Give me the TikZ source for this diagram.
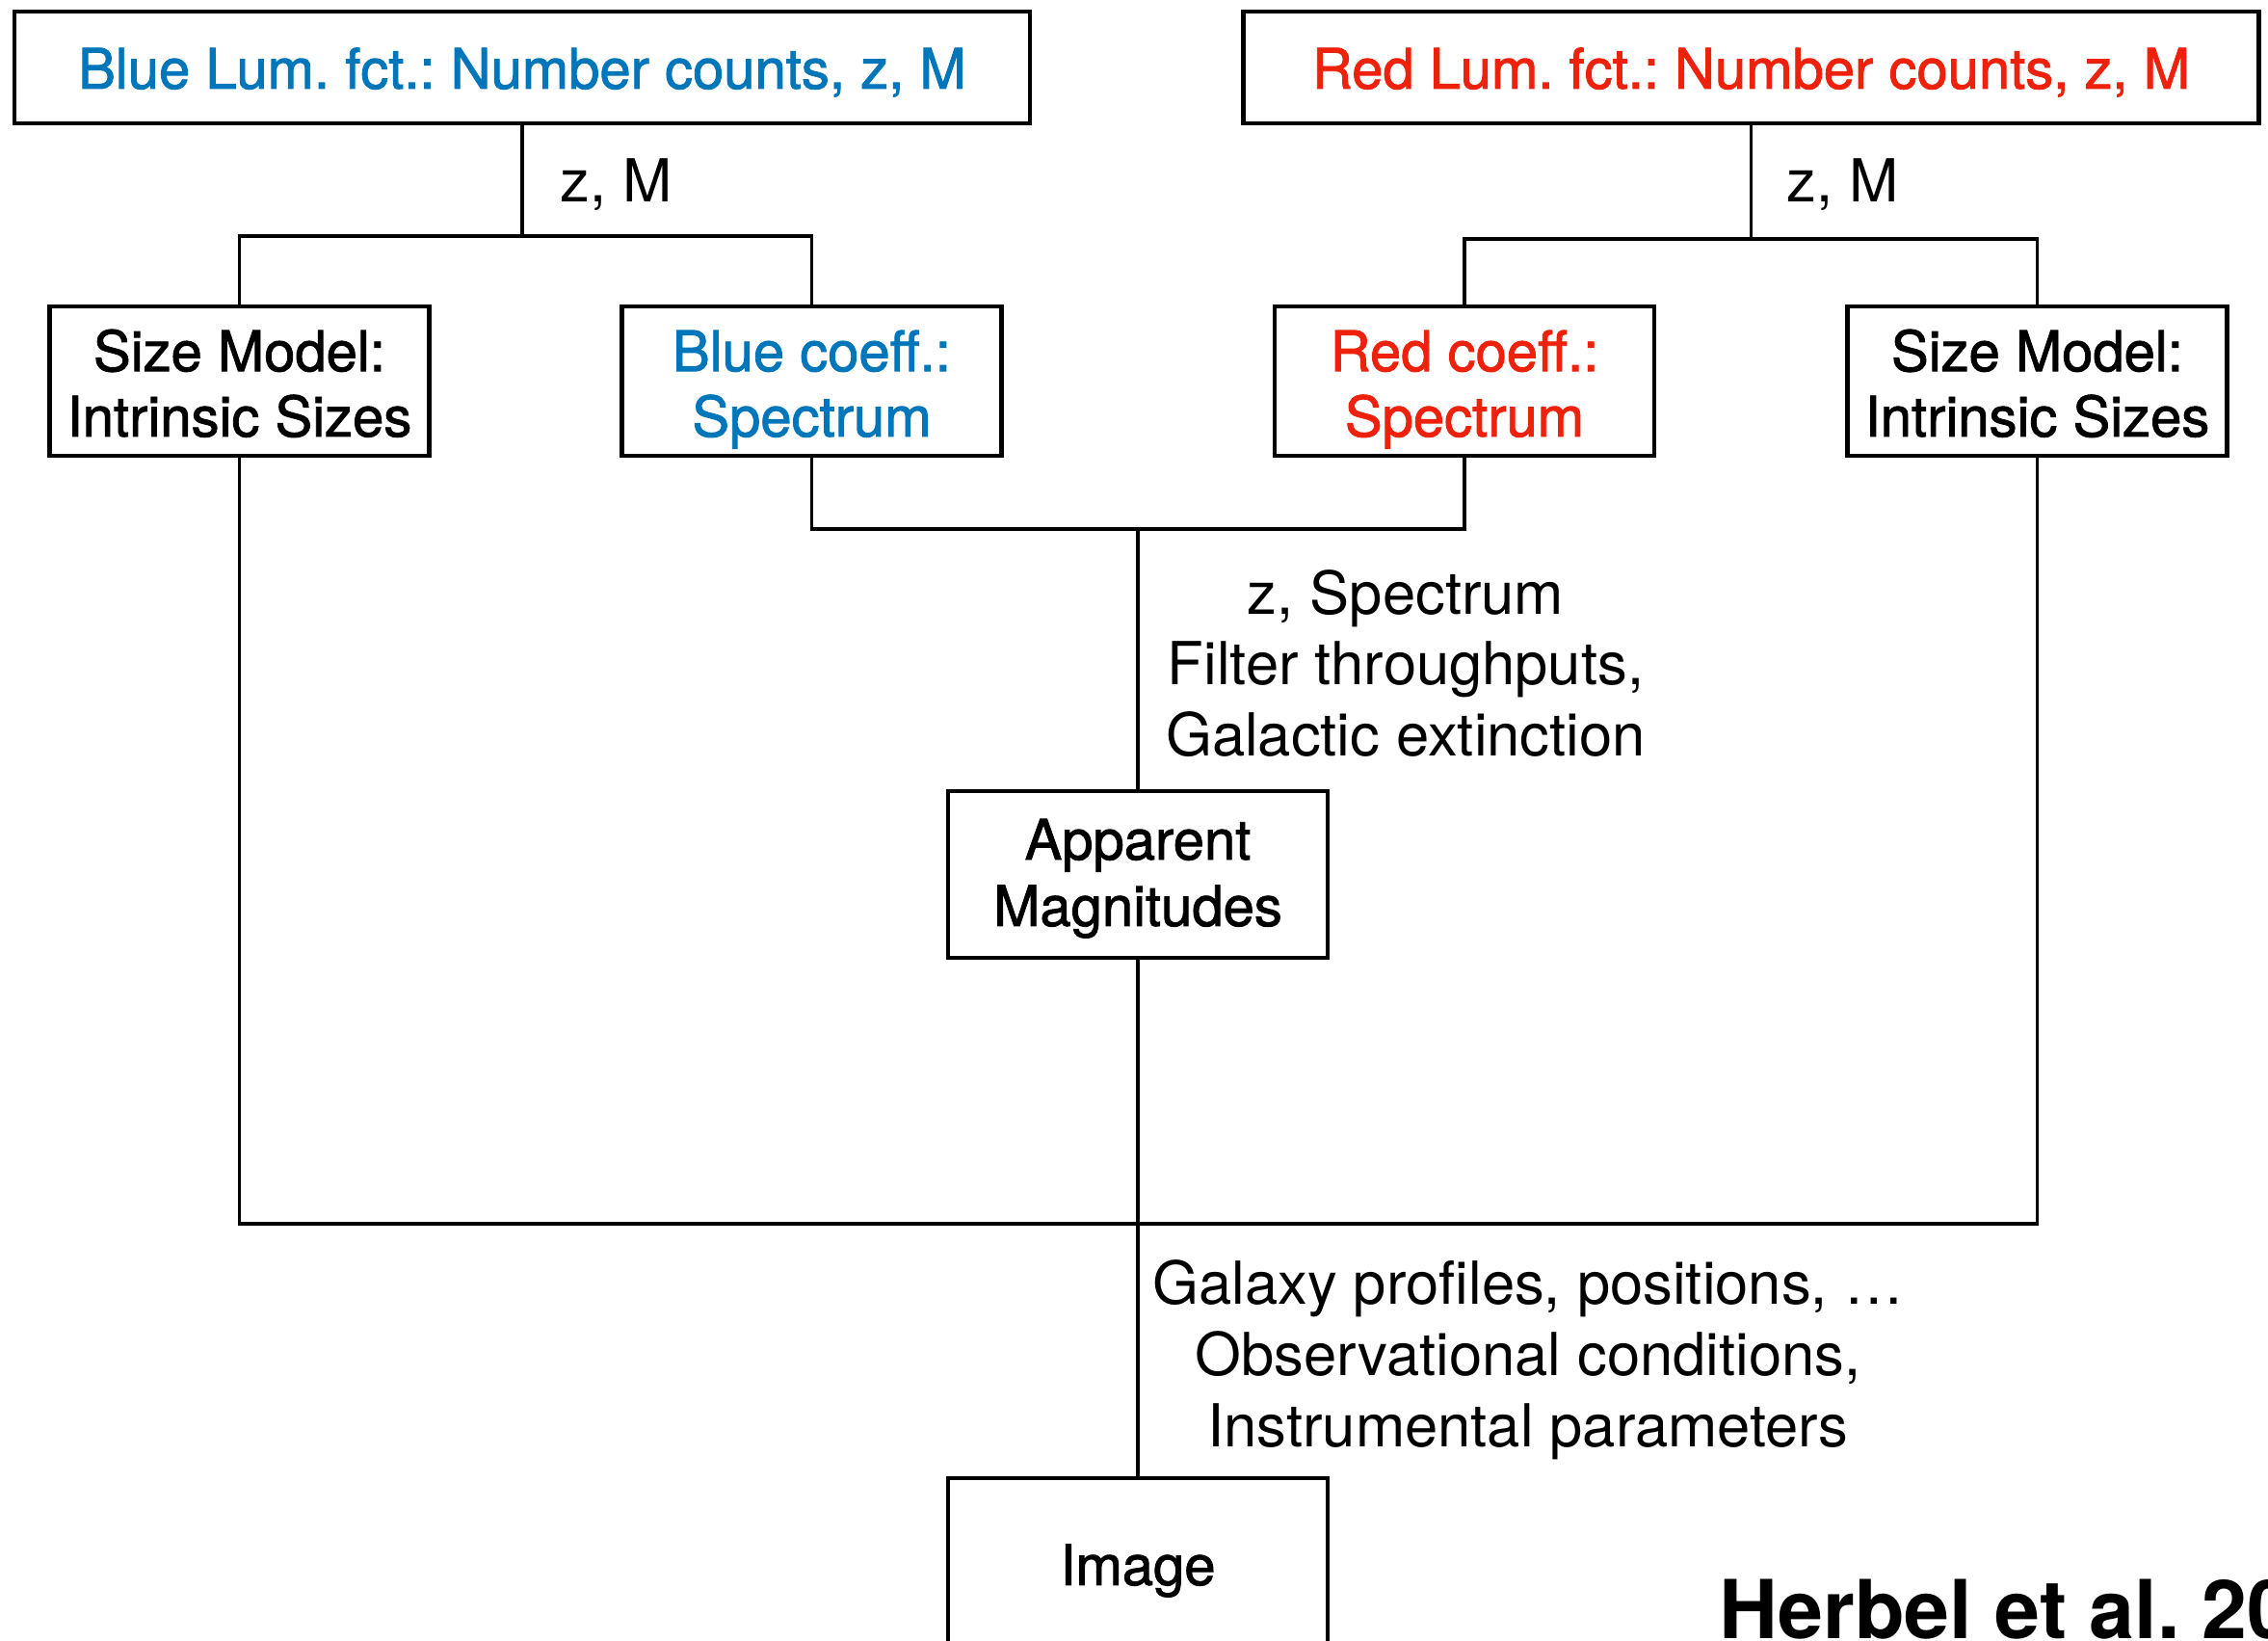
\documentclass[tikz,border=0pt]{standalone}
\usepackage{fontspec}
\setmainfont{TeX Gyre Heros}
\newfontfamily\medfont[FakeBold=1.5]{TeX Gyre Heros}
\usetikzlibrary{positioning}
\definecolor{lumblue}{HTML}{0076BA}
\definecolor{lumred}{HTML}{EE220C}
\frenchspacing

\begin{document}
\begin{tikzpicture}[
  box/.style={draw, line width=1.2pt, minimum width=3.94cm, minimum height=1.55cm,
              align=center, inner sep=0pt, font=\fontsize{16.5}{19.3}\medfont,
              text height=32.7pt, text depth=0pt},
  lumbox/.style={box, minimum width=10.54cm, minimum height=1.16cm,
                 text height=12.5pt, text depth=0pt},
  lbl/.style={align=center, inner sep=0pt, font=\fontsize{17.5}{21}\selectfont},
  wire/.style={line width=1.1pt}]
  \clip (0,0) rectangle (23.54,-17.03);
  \useasboundingbox (0,0) rectangle (23.54,-17.03);

  % Luminosity functions
  \node[lumbox, text=lumblue] (bluelum) at (5.42,-0.70) {Blue Lum. fct.: Number counts, z, M};
  \node[lumbox, text=lumred] (redlum) at (18.175,-0.70) {Red Lum. fct.: Number counts, z, M};

  % Second row
  \node[box] (bsize) at (2.485,-3.955) {Size Model:\\Intrinsic Sizes};
  \node[box, text=lumblue] (bcoeff) at (8.425,-3.955) {Blue coeff.:\\Spectrum};
  \node[box, text=lumred] (rcoeff) at (15.20,-3.955) {Red coeff.:\\Spectrum};
  \node[box] (rsize) at (21.145,-3.955) {Size Model:\\Intrinsic Sizes};

  % Magnitudes and image
  \node[box, minimum height=1.73cm, font=\fontsize{16.5}{19.6}\medfont,
        text height=30.4pt] (appmag) at (11.81,-9.075) {Apparent\\Magnitudes};
  \node[box, minimum height=1.73cm, text height=13.9pt] (image) at (11.81,-16.205) {Image};

  % Junctions
  \coordinate (bjoin) at (5.42,-2.45);
  \coordinate (rjoin) at (18.175,-2.48);
  \coordinate (sjoin) at (11.81,-5.49);
  \coordinate (ijoin) at (11.81,-12.70);

  \draw[wire] (bluelum.south) -- (bjoin);
  \draw[wire] (bsize.north) |- (bjoin) -| (bcoeff.north);
  \draw[wire] (redlum.south) -- (rjoin);
  \draw[wire] (rcoeff.north) |- (rjoin) -| (rsize.north);
  \draw[wire] (bcoeff.south) |- (sjoin) -| (rcoeff.south);
  \draw[wire] (sjoin) -- (appmag.north);
  \draw[wire] (bsize.south) |- (ijoin) -| (rsize.south);
  \draw[wire] (appmag.south) -- (image.north);

  % Labels
  \node[lbl, anchor=west] (bzm) at (5.81,-1.92) {z, M};
  \node[lbl, anchor=west] (rzm) at (18.54,-1.92) {z, M};
  \node[lbl] (photo) at (14.59,-6.885) {z, Spectrum\\Filter throughputs,\\Galactic extinction};
  \node[lbl] (imgsim) at (15.86,-14.115) {Galaxy profiles, positions, …\\Observational conditions,\\Instrumental parameters};

  \node[anchor=base west, inner sep=0pt, font=\fontsize{24}{28}\bfseries] (cite) at (17.84,-17.00) {Herbel et al. 2017};
\end{tikzpicture}
\end{document}
